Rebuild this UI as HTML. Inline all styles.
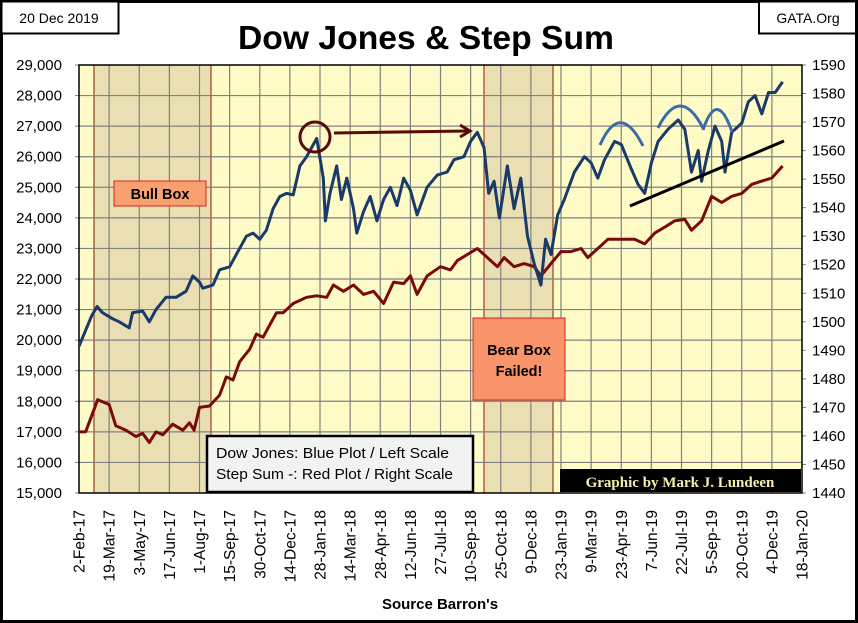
<!DOCTYPE html>
<html><head><meta charset="utf-8"><style>
html,body{margin:0;padding:0;background:#fff}
svg{display:block;font-family:"Liberation Sans",Arial,sans-serif}
</style></head><body>
<svg id="chart" width="858" height="623" viewBox="0 0 858 623">
<defs>
<pattern id="dots" width="4" height="4" patternUnits="userSpaceOnUse"><rect width="4" height="4" fill="#fffcc8"/><rect x="1" y="1" width="1" height="1" fill="#f2ebb8"/></pattern>
</defs>
<rect x="1.5" y="1.5" width="855" height="620" fill="#fff" stroke="#000" stroke-width="3"/>
<g><rect x="1.5" y="1.5" width="117" height="32" fill="#fff" stroke="#000" stroke-width="2"/><text x="59" y="23" font-size="14" text-anchor="middle">20 Dec 2019</text></g>
<g><rect x="759" y="1.5" width="97" height="32" fill="#fff" stroke="#000" stroke-width="2"/><text x="808" y="23" font-size="14" text-anchor="middle">GATA.Org</text></g>
<text x="426" y="49" font-size="33" font-weight="bold" text-anchor="middle" textLength="376" lengthAdjust="spacingAndGlyphs">Dow Jones &amp; Step Sum</text>
<rect x="79" y="65" width="723" height="428" fill="url(#dots)"/>
<rect x="94" y="65" width="117" height="428" fill="#e8dcb0" opacity="0.9" stroke="#7a0000" stroke-width="1"/>
<rect x="484" y="65" width="69" height="428" fill="#e8dcb0" opacity="0.9" stroke="#7a0000" stroke-width="1"/>
<g id="grid"></g>
<g id="axes"></g>
<g id="series"></g>
<g><rect x="114" y="181" width="92" height="25" fill="#f9a070" stroke="#e02020" stroke-width="1"/><text x="160" y="199" font-size="14.5" font-weight="bold" text-anchor="middle">Bull Box</text></g>
<g><rect x="473" y="318" width="92" height="82" fill="#f9946a" stroke="#e02020" stroke-width="1"/><text x="519" y="355" font-size="14.5" font-weight="bold" text-anchor="middle">Bear Box</text><text x="519" y="376" font-size="14.5" font-weight="bold" text-anchor="middle">Failed!</text></g>
<g><rect x="207" y="436" width="266" height="56" fill="#f2f2f2" stroke="#000" stroke-width="2.5"/><text x="216" y="458" font-size="14.5" textLength="233" lengthAdjust="spacingAndGlyphs">Dow Jones: Blue Plot / Left Scale</text><text x="216" y="479" font-size="14.5" textLength="237" lengthAdjust="spacingAndGlyphs">Step Sum -: Red Plot / Right Scale</text></g>
<g><rect x="560" y="469" width="241" height="23" fill="#000"/><text x="680" y="487" font-size="15" font-weight="bold" fill="#f5eeb0" text-anchor="middle" font-family="Liberation Serif,serif">Graphic by Mark J. Lundeen</text></g>
<g>
<circle cx="315" cy="137" r="15" fill="none" stroke="#5a0a0a" stroke-width="3"/>
<line x1="334" y1="133" x2="468" y2="131" stroke="#5a0a0a" stroke-width="3"/>
<polyline points="460,125 470,131 460,137" fill="none" stroke="#5a0a0a" stroke-width="3"/>
<path d="M600,145 Q620,100 643,146" fill="none" stroke="#3d6aa8" stroke-width="3"/>
<path d="M658,128 Q680,84 703,128" fill="none" stroke="#3d6aa8" stroke-width="3"/>
<path d="M703,130 Q717,88 732,132" fill="none" stroke="#3d6aa8" stroke-width="3"/>
<line x1="630" y1="206" x2="784" y2="141" stroke="#000" stroke-width="3"/>
</g>
<text x="440" y="609" font-size="15" font-weight="bold" text-anchor="middle">Source Barron's</text>
</svg>
<script>
const xTickLabels=["2-Feb-17","19-Mar-17","3-May-17","17-Jun-17","1-Aug-17","15-Sep-17","30-Oct-17","14-Dec-17","28-Jan-18","14-Mar-18","28-Apr-18","12-Jun-18","27-Jul-18","10-Sep-18","25-Oct-18","9-Dec-18","23-Jan-19","9-Mar-19","23-Apr-19","7-Jun-19","22-Jul-19","5-Sep-19","20-Oct-19","4-Dec-19","18-Jan-20"];
const leftTicks=[15000,16000,17000,18000,19000,20000,21000,22000,23000,24000,25000,26000,27000,28000,29000];
const rightTicks=[1440,1450,1460,1470,1480,1490,1500,1510,1520,1530,1540,1550,1560,1570,1580,1590];
const dowDays=[0,19,27,35,50,60,75,80,95,105,115,130,145,160,170,180,185,200,210,225,235,250,260,270,280,290,300,310,320,330,340,355,365,368,375,385,392,400,410,415,425,435,445,455,465,475,485,495,505,520,535,550,560,575,585,595,605,612,620,628,640,650,660,670,680,690,697,705,715,725,740,755,765,775,785,800,810,825,835,845,855,865,880,895,905,915,925,930,940,950,960,965,975,990,1000,1010,1020,1030,1040,1051];
const dowValues=[19800,20800,21100,20900,20700,20600,20400,20900,20950,20600,21000,21400,21400,21600,22100,21900,21700,21800,22300,22400,22800,23400,23500,23300,23600,24300,24700,24800,24750,25700,26000,26600,25300,23900,24800,25700,24600,25300,24300,23500,24200,24700,23900,24600,25000,24400,25300,24900,24100,25000,25400,25500,25900,26000,26500,26800,26300,24800,25200,24000,25700,24300,25300,23400,22500,21800,23300,22800,24100,24600,25500,26000,25800,25300,25900,26500,26400,25600,25100,24800,25800,26500,26900,27200,26900,25500,26200,25200,26200,27000,26500,25500,26800,27100,27800,28000,27400,28100,28100,28450];
const stepDays=[0,10,28,45,55,70,85,95,105,115,125,140,155,165,172,180,195,210,220,230,240,255,265,275,285,295,305,320,340,355,370,380,395,410,425,440,455,470,485,495,505,520,540,555,565,580,595,610,625,635,650,665,680,690,705,720,735,750,760,775,790,810,830,845,860,875,890,905,915,930,945,960,975,990,1005,1020,1035,1051];
const stepValues=[1461.4,1461.5,1472.7,1471,1463.6,1462,1459.8,1460.9,1457.7,1461.4,1460.4,1464.1,1462,1464.6,1462,1470,1470.5,1474.3,1480.7,1479.6,1486,1490.4,1495.7,1494.6,1498.9,1503.2,1503.2,1506.4,1508.6,1509.1,1508.6,1512.9,1510.7,1512.9,1509.6,1510.7,1506.4,1513.9,1513.4,1516.1,1509.6,1516.1,1519.3,1518.2,1521.4,1523.6,1525.7,1522.5,1519.3,1522.5,1519.3,1520.4,1519.3,1516.1,1520.4,1524.6,1524.6,1525.7,1522.5,1525.7,1528.9,1528.9,1528.9,1527.3,1531.1,1533.2,1535.4,1535.9,1532.1,1535.4,1544,1541.8,1544,1545,1548.2,1549.3,1550.4,1554.6];

const NS="http://www.w3.org/2000/svg";
const L=79,R=802,T=65,B=493,DAYS=1080;
const xs=d=>L+d/DAYS*(R-L);
const yl=v=>B-(v-15000)/14000*(B-T);
const yr=v=>B-(v-1440)/150*(B-T);
function mk(tag,parent){const e=document.createElementNS(NS,tag);parent.appendChild(e);return e;}
const grid=document.getElementById('grid'),axes=document.getElementById('axes'),series=document.getElementById('series');
xTickLabels.forEach((lab,i)=>{
  const x=xs(i*45);
  if(i>0&&i<xTickLabels.length-1){const g=mk('line',grid);g.setAttribute('x1',x);g.setAttribute('x2',x);g.setAttribute('y1',T);g.setAttribute('y2',B);g.setAttribute('stroke','#808080');g.setAttribute('stroke-width','1.2');
  
  }
  const t=mk('text',axes);t.textContent=lab;t.setAttribute('font-size','15.5');t.setAttribute('text-anchor','end');
  t.setAttribute('transform',`translate(${x+5.5},${B+17}) rotate(-90)`);
  
  
});
leftTicks.forEach(v=>{
  const y=yl(v);
  if(v>15000&&v<29000){const g=mk('line',grid);g.setAttribute('x1',L);g.setAttribute('x2',R);g.setAttribute('y1',y);g.setAttribute('y2',y);g.setAttribute('stroke','#808080');g.setAttribute('stroke-width','1.2');
  
  }
  const t=mk('text',axes);t.textContent=v.toLocaleString('en-US');t.setAttribute('x',L-17);t.setAttribute('y',y+5);t.setAttribute('font-size','15');t.setAttribute('text-anchor','end');
  
  
  const k=mk('line',axes);k.setAttribute('x1',L-4);k.setAttribute('x2',L);k.setAttribute('y1',y);k.setAttribute('y2',y);k.setAttribute('stroke','#808080');
});
rightTicks.forEach(v=>{
  const y=yr(v);
  const t=mk('text',axes);t.textContent=v;t.setAttribute('x',R+10);t.setAttribute('y',y+5);t.setAttribute('font-size','15');
  
  
  const k=mk('line',axes);k.setAttribute('x1',R);k.setAttribute('x2',R+4);k.setAttribute('y1',y);k.setAttribute('y2',y);k.setAttribute('stroke','#808080');
});
const ax=mk('path',axes);ax.setAttribute('d',`M${L},${T}H${R}V${B}H${L}Z`);ax.setAttribute('fill','none');ax.setAttribute('stroke','#000');ax.setAttribute('stroke-width','1.5');


const red=mk('polyline',series);
red.setAttribute('points',stepDays.map((d,i)=>xs(d).toFixed(1)+','+yr(stepValues[i]).toFixed(1)).join(' '));
red.setAttribute('fill','none');red.setAttribute('stroke','#7a0a0a');red.setAttribute('stroke-width','3');red.setAttribute('stroke-linejoin','round');


const blue=mk('polyline',series);
blue.setAttribute('points',dowDays.map((d,i)=>xs(d).toFixed(1)+','+yl(dowValues[i]).toFixed(1)).join(' '));
blue.setAttribute('fill','none');blue.setAttribute('stroke','#1a3a68');blue.setAttribute('stroke-width','3');blue.setAttribute('stroke-linejoin','round');


</script>
</body></html>
